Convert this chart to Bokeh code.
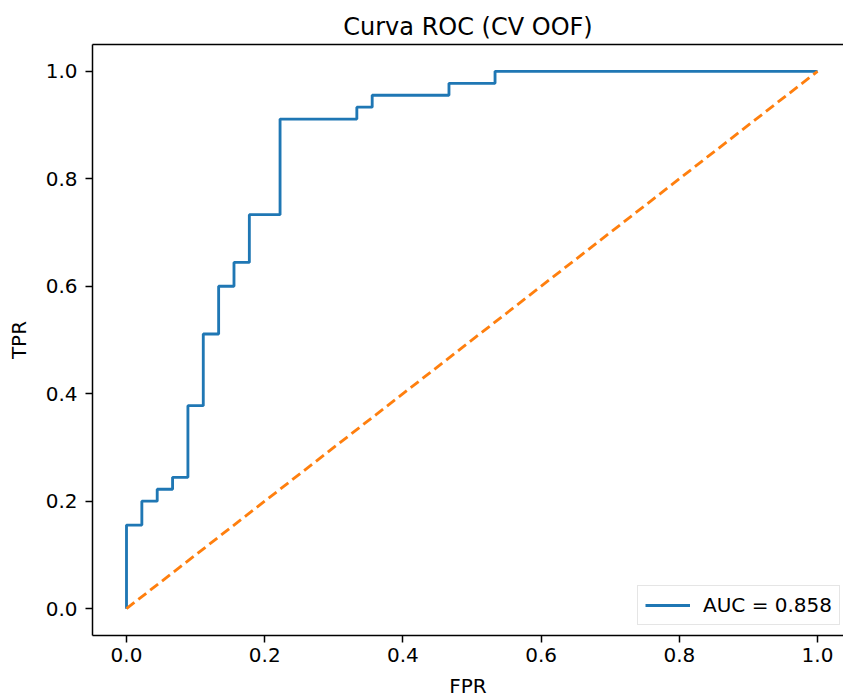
from bokeh.plotting import figure
from bokeh.models import Range1d, LinearAxis, FixedTicker, PrintfTickFormatter, Legend, LegendItem
from bokeh.embed import file_html
from bokeh.resources import INLINE

# ROC curve (out-of-fold CV); 45 negatives, 45 positives -> values as counts / 45
n_neg = 45
n_pos = 45
fpr_counts = [0, 0, 1, 1, 2, 2, 3, 3, 4, 4, 5, 5, 6, 6, 7, 7, 8, 8, 10, 10, 15, 15, 16, 16, 21, 21, 24, 24, 45]
tpr_counts = [0, 7, 7, 9, 9, 10, 10, 11, 11, 17, 17, 23, 23, 27, 27, 29, 29, 33, 33, 41, 41, 42, 42, 43, 43, 44, 44, 45, 45]
fpr = [c / n_neg for c in fpr_counts]
tpr = [c / n_pos for c in tpr_counts]
chance_x = [0.0, 1.0]
chance_y = [0.0, 1.0]
auc_label = "AUC = 0.858"
title_text = "Curva ROC (CV OOF)"
x_label = "FPR"
y_label = "TPR"
ticks = [0.0, 0.2, 0.4, 0.6, 0.8, 1.0]

FONT = "DejaVu Sans"

p = figure(width=843, height=700, output_backend="svg", toolbar_location=None,
           x_range=Range1d(-0.0492, 1.0376), y_range=Range1d(-0.05, 1.05),
           min_border_left=92, min_border_right=0, min_border_top=44, min_border_bottom=64,
           title=title_text)
p.title.align = "center"
p.title.text_font = FONT
p.title.text_font_size = "24px"
p.title.text_font_style = "normal"
p.title.text_color = "black"
p.title.standoff = 8

p.outline_line_color = None
p.xgrid.grid_line_color = None
p.ygrid.grid_line_color = None
p.background_fill_color = "white"
p.border_fill_color = "white"

for ax in (p.xaxis[0], p.yaxis[0]):
    ax.ticker = FixedTicker(ticks=ticks)
    ax.formatter = PrintfTickFormatter(format="%.1f")
    ax.axis_line_width = 1.5
    ax.axis_line_color = "black"
    ax.major_tick_line_width = 1.5
    ax.major_tick_line_color = "black"
    ax.major_tick_out = 7
    ax.major_tick_in = 0
    ax.minor_tick_line_color = None
    ax.major_label_text_font = FONT
    ax.major_label_text_font_size = "20px"
    ax.major_label_text_color = "black"
    ax.axis_label_text_font = FONT
    ax.axis_label_text_font_size = "20px"
    ax.axis_label_text_font_style = "normal"
    ax.axis_label_text_color = "black"

p.xaxis[0].axis_label = x_label
p.yaxis[0].axis_label = y_label
p.xaxis[0].major_label_standoff = 5
p.xaxis[0].axis_label_standoff = 9
p.yaxis[0].major_label_standoff = 8
p.yaxis[0].axis_label_standoff = 12

# top frame edge (the right edge lies outside the picture)
top = LinearAxis(ticker=FixedTicker(ticks=[]), axis_line_width=1.5, axis_line_color="black",
                 major_tick_out=0, major_tick_in=0, minor_tick_out=0, minor_tick_in=0,
                 major_label_text_font_size="0px")
p.add_layout(top, "above")

roc = p.line(fpr, tpr, line_color="#1f77b4", line_width=2.85)
p.line(chance_x, chance_y, line_color="#ff7f0e", line_width=2.85, line_dash="10 5")

legend = Legend(items=[LegendItem(label=auc_label, renderers=[roc])],
                location=(545, 10), margin=0, padding=7, spacing=0,
                glyph_width=45, glyph_height=20, label_height=20, label_standoff=13,
                label_text_font=FONT, label_text_font_size="20px", label_text_color="black",
                border_line_color="#cccccc", border_line_width=1,
                background_fill_color="white", background_fill_alpha=0.8)
p.add_layout(legend)

open("out.html", "w").write(file_html(p, INLINE))
